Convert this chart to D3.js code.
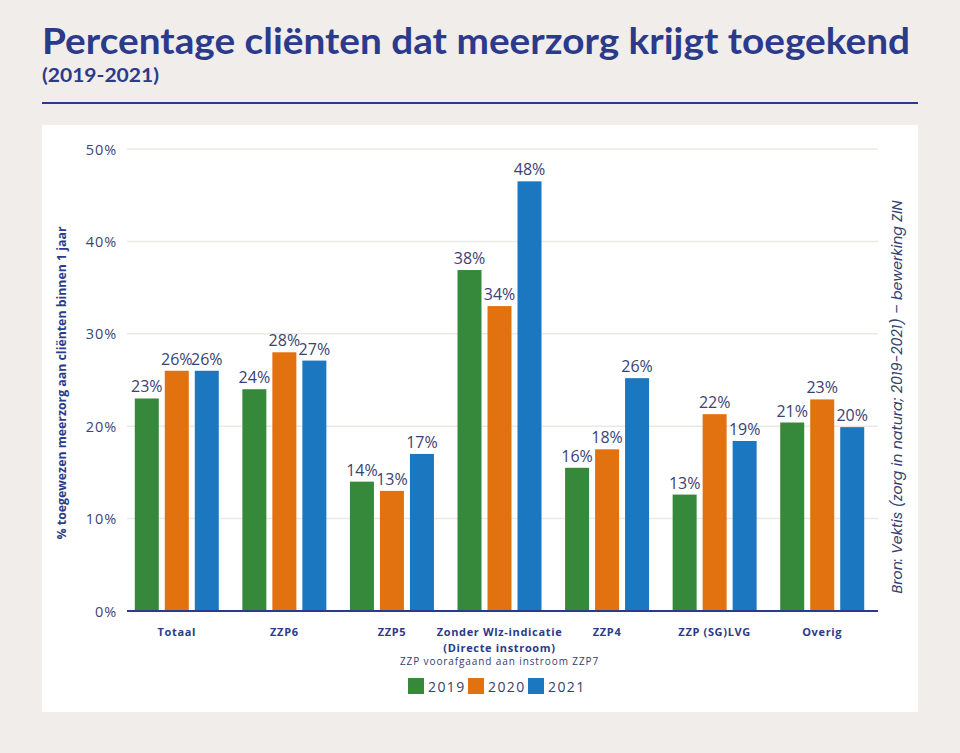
<!DOCTYPE html>
<html>
<head>
<meta charset="utf-8">
<script src="https://cdn.jsdelivr.net/npm/d3@7"></script>
<style>
html,body{margin:0;padding:0;background:#f1edea;}
svg{display:block;}
</style>
</head>
<body>
<svg id="chart" width="960" height="753"></svg>
<script>
const categories = ["Totaal","ZZP6","ZZP5","Zonder Wlz-indicatie","ZZP4","ZZP (SG)LVG","Overig"];
const categoryLines = [["Totaal"],["ZZP6"],["ZZP5"],["Zonder Wlz-indicatie","(Directe instroom)"],["ZZP4"],["ZZP (SG)LVG"],["Overig"]];
const years = ["2019","2020","2021"];
const values2019 = [23.0, 24.0, 14.0, 36.9, 15.5, 12.6, 20.4];
const values2020 = [26.0, 28.0, 13.0, 33.0, 17.5, 21.3, 22.9];
const values2021 = [26.0, 27.1, 17.0, 46.5, 25.2, 18.4, 19.9];
const labels2019 = [23, 24, 14, 38, 16, 13, 21];
const labels2020 = [26, 28, 13, 34, 18, 22, 23];
const labels2021 = [26, 27, 17, 48, 26, 19, 20];
const yTicks = [0, 10, 20, 30, 40, 50];
const colors = ["#36893a", "#e2720f", "#1b77bf"];
const title = "Percentage cliënten dat meerzorg krijgt toegekend";
const subtitle = "(2019-2021)";
const yTitle = "% toegewezen meerzorg aan cliënten binnen 1 jaar";
const xNote = "ZZP voorafgaand aan instroom ZZP7";
const source = "Bron: Vektis (zorg in natura; 2019-2021) – bewerking ZIN";

const navy = "#2b3a8a";
const textNavy = "#35406e";
const seriesValues = [values2019, values2020, values2021];
const seriesLabels = [labels2019, labels2020, labels2021];

const svg = d3.select("#chart");

// header
svg.append("text").attr("x", 42).attr("y", 54)
  .attr("font-family", "Lato, 'Open Sans', sans-serif").attr("font-weight", 700)
  .attr("font-size", 37).attr("fill", navy)
  .attr("textLength", 868).attr("lengthAdjust", "spacingAndGlyphs")
  .text(title);
svg.append("text").attr("x", 42).attr("y", 82)
  .attr("font-family", "Lato, 'Open Sans', sans-serif").attr("font-weight", 700)
  .attr("font-size", 19).attr("fill", navy)
  .attr("textLength", 117).attr("lengthAdjust", "spacingAndGlyphs")
  .text(subtitle);
svg.append("line").attr("x1", 42).attr("x2", 918).attr("y1", 103).attr("y2", 103)
  .attr("stroke", navy).attr("stroke-width", 2);

// panel
svg.append("rect").attr("x", 42).attr("y", 125).attr("width", 876).attr("height", 587).attr("fill", "#ffffff");

const x0 = d3.scaleBand().domain(categories).range([123, 876]);
const x1 = d3.scaleBand().domain(years).range([-45, 45]).paddingInner(0.2).paddingOuter(0.1);
const y = d3.scaleLinear().domain([0, 50]).range([611, 149]);

const plotLeft = 127, plotRight = 878;

// gridlines
svg.append("g").selectAll("line").data(yTicks.filter(d => d > 0)).join("line")
  .attr("x1", plotLeft).attr("x2", plotRight)
  .attr("y1", d => y(d)).attr("y2", d => y(d))
  .attr("stroke", "#ece9e5").attr("stroke-width", 1.5);

// y axis ticks
const yAxis = d3.axisLeft(y).tickValues(yTicks).tickFormat(d => d + "%").tickSize(0).tickPadding(0);
const yg = svg.append("g").attr("transform", "translate(117,0)").call(yAxis);
yg.select(".domain").remove();
yg.selectAll("text").attr("font-family", "'Open Sans', sans-serif").attr("font-size", 14.5)
  .attr("letter-spacing", "0.06em")
  .attr("fill", "#3c4670").attr("dy", "0.35em");

// y title
svg.append("text").attr("transform", "translate(66,383) rotate(-90)")
  .attr("text-anchor", "middle").attr("font-family", "'Open Sans', sans-serif")
  .attr("font-weight", 700).attr("font-size", 12.5).attr("fill", navy)
  .attr("textLength", 313).attr("lengthAdjust", "spacingAndGlyphs")
  .text(yTitle);

// bars
const groups = svg.append("g").selectAll("g").data(categories).join("g")
  .attr("transform", d => `translate(${x0(d) + x0.bandwidth() / 2},0)`);

groups.each(function(cat, ci) {
  const g = d3.select(this);
  years.forEach((yr, si) => {
    const v = seriesValues[si][ci];
    g.append("rect").attr("x", x1(yr)).attr("width", x1.bandwidth())
      .attr("y", y(v)).attr("height", y(0) - y(v)).attr("fill", colors[si]);
  });
  years.forEach((yr, si) => {
    const v = seriesValues[si][ci];
    g.append("text").attr("x", x1(yr) + x1.bandwidth() / 2).attr("y", y(v) - 6)
      .attr("text-anchor", "middle").attr("font-family", "'Open Sans', sans-serif")
      .attr("font-size", 16).attr("fill", "#3a4272")
      .text(seriesLabels[si][ci] + "%");
  });
});

// x axis line
svg.append("line").attr("x1", plotLeft).attr("x2", plotRight).attr("y1", 611).attr("y2", 611)
  .attr("stroke", navy).attr("stroke-width", 2);

// x labels
const xAxis = d3.axisBottom(x0).tickSize(0).tickFormat("");
const xg = svg.append("g").attr("transform", "translate(0,611)").call(xAxis);
xg.select(".domain").remove();
xg.selectAll(".tick").each(function(d, i) {
  const t = d3.select(this);
  categoryLines[i].forEach((line, li) => {
    t.append("text").attr("y", 25 + li * 15.5).attr("text-anchor", "middle")
      .attr("font-family", "'Open Sans', sans-serif").attr("font-weight", 700)
      .attr("font-size", 11).attr("letter-spacing", "0.06em").attr("fill", navy)
      .text(line);
  });
});
svg.append("text").attr("x", x0("Zonder Wlz-indicatie") + x0.bandwidth() / 2).attr("y", 665)
  .attr("text-anchor", "middle").attr("font-family", "'Open Sans', sans-serif")
  .attr("font-size", 10).attr("letter-spacing", "0.09em").attr("fill", textNavy)
  .text(xNote);

// legend
const legend = svg.append("g").attr("transform", "translate(408,678)");
years.forEach((yr, i) => {
  const lg = legend.append("g").attr("transform", `translate(${i * 60},0)`);
  lg.append("rect").attr("width", 16).attr("height", 16).attr("fill", colors[i]);
  lg.append("text").attr("x", 20).attr("y", 14).attr("font-family", "'Open Sans', sans-serif")
    .attr("font-size", 14).attr("letter-spacing", "0.1em").attr("fill", textNavy).text(yr);
});

// source
svg.append("text").attr("transform", "translate(902,397) rotate(-90)")
  .attr("text-anchor", "middle").attr("font-family", "Poppins, 'Open Sans', sans-serif")
  .attr("font-style", "italic").attr("font-size", 14).attr("fill", textNavy)
  .attr("textLength", 393).attr("lengthAdjust", "spacingAndGlyphs")
  .text(source);
</script>
</body>
</html>
